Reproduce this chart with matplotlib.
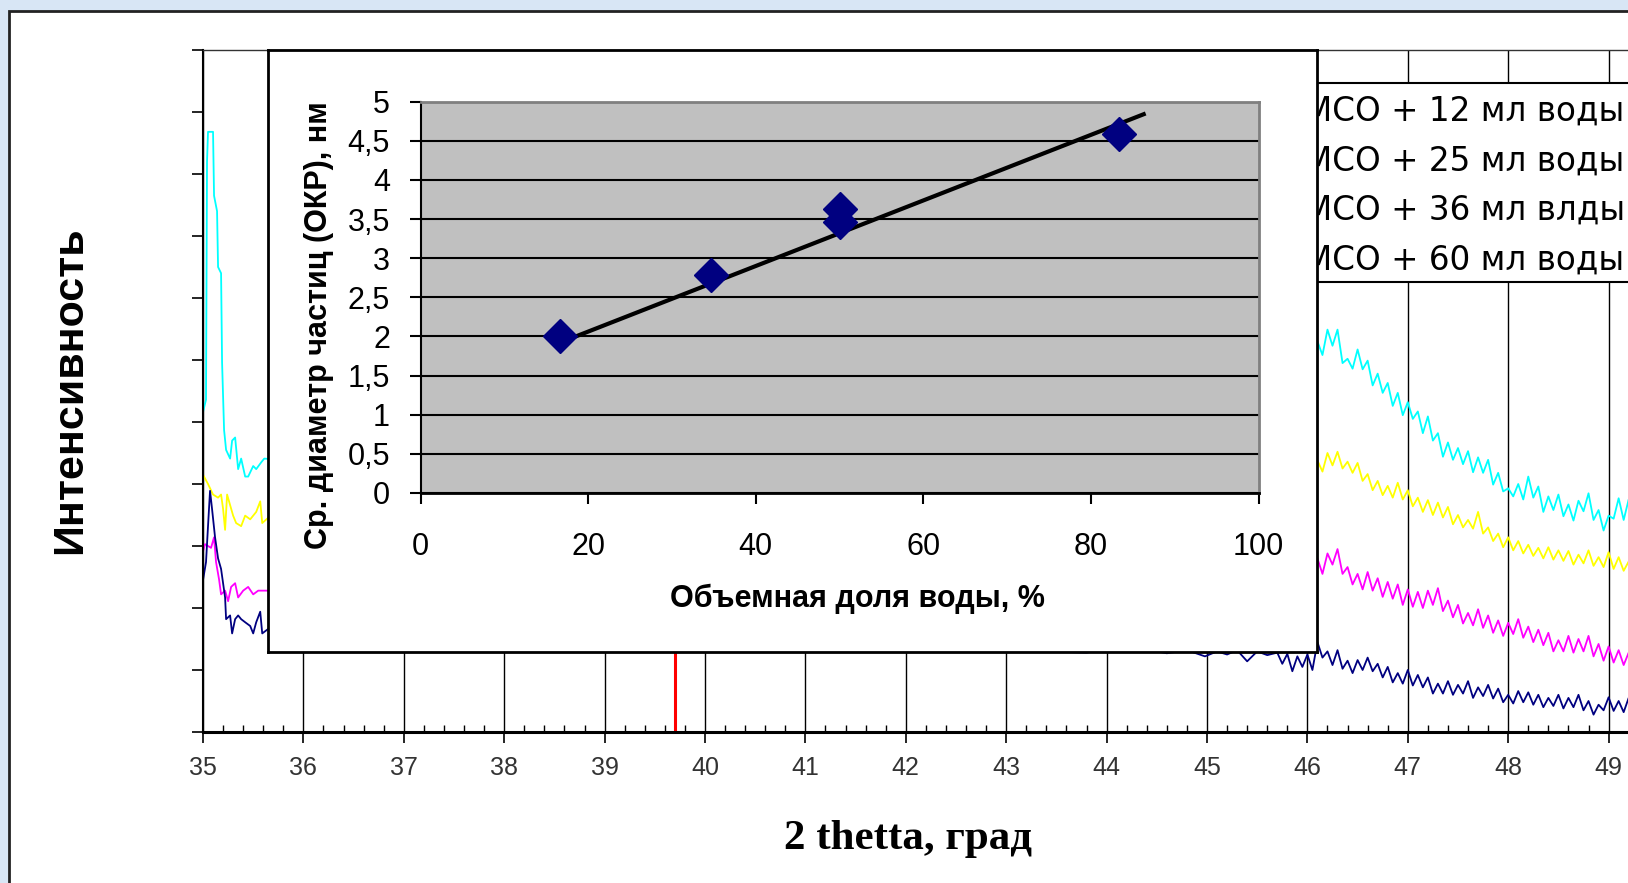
import numpy as np
import matplotlib
matplotlib.use("Agg")
import matplotlib.pyplot as plt
from matplotlib.patches import Rectangle
from matplotlib.ticker import MultipleLocator, FuncFormatter

W, H = 1628, 883

# --- XRD patterns (main chart), left part visible before the inset ---
cyan_lx = [35.00, 35.03, 35.04, 35.05, 35.08, 35.10, 35.11, 35.14, 35.15, 35.18, 35.19, 35.21,
           35.23, 35.27, 35.29, 35.32, 35.35, 35.38, 35.42, 35.45, 35.50, 35.53, 35.58, 35.61, 35.68]
cyan_ly = [5.16, 5.36, 9.20, 9.68, 9.68, 9.68, 8.65, 8.40, 7.50, 7.40, 5.96, 4.87,
           4.55, 4.41, 4.70, 4.75, 4.24, 4.41, 4.12, 4.12, 4.29, 4.24, 4.35, 4.41, 4.40]
yellow_lx = [35.00, 35.05, 35.10, 35.15, 35.18, 35.20, 35.22, 35.24, 35.27, 35.30, 35.33, 35.38,
             35.42, 35.47, 35.53, 35.57, 35.59, 35.68]
yellow_ly = [4.15, 4.00, 3.83, 3.78, 3.83, 3.60, 3.26, 3.83, 3.66, 3.49, 3.37, 3.32,
             3.49, 3.43, 3.55, 3.72, 3.37, 3.50]
magenta_lx = [35.00, 35.00, 35.02, 35.05, 35.08, 35.11, 35.13, 35.16, 35.18, 35.22, 35.25, 35.28,
              35.32, 35.35, 35.40, 35.45, 35.50, 35.55, 35.60, 35.68]
magenta_ly = [2.63, 2.91, 3.03, 3.00, 2.97, 3.14, 2.74, 2.46, 2.22, 2.28, 2.11, 2.34,
              2.40, 2.17, 2.28, 2.34, 2.22, 2.28, 2.28, 2.28]
navy_lx = [35.00, 35.00, 35.03, 35.05, 35.07, 35.09, 35.12, 35.15, 35.18, 35.22, 35.23, 35.27,
           35.29, 35.32, 35.35, 35.38, 35.42, 35.47, 35.50, 35.53, 35.57, 35.59, 35.68]
navy_ly = [1.94, 2.45, 2.74, 3.32, 3.89, 3.60, 3.14, 2.80, 2.63, 2.17, 1.82, 1.88,
           1.59, 1.82, 1.88, 1.82, 1.77, 1.71, 1.59, 1.77, 1.94, 1.59, 1.70]

# navy trace peeking out under the inset
navy_mx = [43.80, 44.00, 44.20, 44.40, 44.60, 44.80, 44.98, 45.10, 45.20, 45.30, 45.40, 45.50,
           45.60, 45.70, 45.75, 45.80, 45.85, 45.90, 45.95, 46.00, 46.05]
navy_my = [1.28, 1.35, 1.30, 1.33, 1.27, 1.32, 1.22, 1.30, 1.25, 1.32, 1.14, 1.30,
           1.24, 1.28, 1.10, 1.26, 0.98, 1.22, 1.05, 1.25, 1.00]

# right part, 46.10 ... 49.30 every 0.05 deg
right_x = np.round(np.arange(46.10, 49.301, 0.05), 2)
cyan_r = [6.30, 6.08, 6.49, 6.23, 6.49, 5.95, 6.02, 5.86, 6.17, 5.85,
          5.99, 5.59, 5.78, 5.47, 5.63, 5.26, 5.47, 5.11, 5.32, 5.05,
          5.17, 4.82, 5.09, 4.70, 4.82, 4.44, 4.67, 4.39, 4.58, 4.32,
          4.53, 4.19, 4.43, 4.18, 4.39, 3.99, 4.18, 3.88, 3.93, 3.80,
          4.00, 3.75, 4.12, 3.78, 3.96, 3.55, 3.80, 3.58, 3.83, 3.48,
          3.67, 3.41, 3.73, 3.56, 3.85, 3.42, 3.58, 3.25, 3.49, 3.44,
          3.77, 3.42, 3.75, 3.38, 3.60]
yellow_r = [4.38, 4.20, 4.50, 4.30, 4.52, 4.25, 4.36, 4.18, 4.34, 4.05,
            4.16, 3.90, 4.05, 3.82, 3.97, 3.78, 4.02, 3.75, 3.90, 3.64,
            3.78, 3.55, 3.74, 3.50, 3.70, 3.46, 3.63, 3.35, 3.50, 3.30,
            3.42, 3.28, 3.55, 3.20, 3.30, 3.08, 3.20, 2.98, 3.14, 2.93,
            3.08, 2.88, 3.02, 2.84, 2.97, 2.80, 2.98, 2.78, 2.93, 2.76,
            2.92, 2.70, 2.86, 2.72, 2.93, 2.68, 2.82, 2.66, 2.90, 2.63,
            2.82, 2.60, 2.75, 2.58, 2.72]
magenta_r = [2.80, 2.55, 2.88, 2.70, 2.95, 2.55, 2.66, 2.38, 2.55, 2.30,
             2.58, 2.28, 2.48, 2.18, 2.42, 2.15, 2.38, 2.05, 2.30, 2.02,
             2.26, 2.00, 2.28, 2.05, 2.32, 1.95, 2.12, 1.85, 2.05, 1.75,
             1.92, 1.72, 1.98, 1.68, 1.88, 1.60, 1.80, 1.55, 1.76, 1.58,
             1.82, 1.52, 1.70, 1.45, 1.65, 1.40, 1.60, 1.30, 1.48, 1.30,
             1.55, 1.28, 1.50, 1.30, 1.55, 1.22, 1.42, 1.15, 1.38, 1.12,
             1.32, 1.08, 1.28, 1.05, 1.25]
navy_r = [1.45, 1.20, 1.30, 1.08, 1.32, 1.02, 1.15, 0.95, 1.16, 1.00,
          1.20, 0.98, 1.10, 0.88, 1.05, 0.80, 0.95, 0.78, 1.00, 0.75,
          0.92, 0.72, 0.88, 0.62, 0.78, 0.62, 0.82, 0.60, 0.76, 0.62,
          0.82, 0.55, 0.72, 0.58, 0.76, 0.54, 0.70, 0.48, 0.60, 0.46,
          0.66, 0.48, 0.64, 0.44, 0.60, 0.40, 0.55, 0.42, 0.60, 0.38,
          0.55, 0.40, 0.60, 0.35, 0.50, 0.28, 0.44, 0.35, 0.56, 0.34,
          0.50, 0.32, 0.55, 0.36, 0.50]

red_line_x = 39.7
legend_labels = ["МСО + 12 мл воды", "МСО + 25 мл воды", "МСО + 36 мл влды", "МСО + 60 мл воды"]

# --- inset: particle size vs water fraction ---
water_frac = [16.7, 34.7, 50.0, 50.0, 83.3]
diameter = [2.00, 2.79, 3.63, 3.46, 4.59]
trend_x = [17.8, 86.3]
trend_y = [1.97, 4.84]

fig = plt.figure(figsize=(W / 100, H / 100), dpi=100)
fig.patch.set_facecolor('#d8e6f5')
page = Rectangle((9 / W, -0.1), 1.2, 1.1 - 11 / H, transform=fig.transFigure,
                 facecolor='white', edgecolor='#222222', lw=2, zorder=-1)
fig.patches.append(page)

# main axes: 35 -> x=203px, 100.4 px per degree, axis at y=732, top at y=50
ax = fig.add_axes([203 / W, 1 - 732 / H, 15 * 100.4 / W, 682 / H])
ax.set_facecolor('none')
ax.set_xlim(35, 50)
ax.set_ylim(0, 11)

series = [
    (cyan_lx, cyan_ly, [], [], cyan_r, '#00ffff'),
    (yellow_lx, yellow_ly, [], [], yellow_r, '#ffff00'),
    (magenta_lx, magenta_ly, [], [], magenta_r, '#ff00ff'),
    (navy_lx, navy_ly, navy_mx, navy_my, navy_r, '#000080'),
]
for lx, ly, mx, my, ry, col in series:
    xs = list(lx) + list(mx) + list(right_x)
    ys = list(ly) + list(my) + list(ry)
    ax.plot(xs, ys, color=col, lw=1.3, zorder=2)

ax.axvline(red_line_x, color='red', lw=2.2, zorder=1.5)

ax.xaxis.set_major_locator(MultipleLocator(1))
ax.xaxis.set_minor_locator(MultipleLocator(0.2))
ax.yaxis.set_major_locator(MultipleLocator(1))
ax.grid(axis='x', which='major', color='black', lw=1)
ax.tick_params(axis='x', which='major', direction='out', length=8, width=1.2,
               labelsize=18, labelcolor='#333333', pad=9)
ax.tick_params(axis='x', which='minor', direction='in', length=5, width=1)
ax.tick_params(axis='y', which='major', direction='out', length=8, width=1.2, labelleft=False)
for lab in ax.get_xticklabels():
    lab.set_fontfamily('Liberation Sans')
ax.spines['bottom'].set_linewidth(2.2)
ax.spines['left'].set_linewidth(1.5)
ax.spines['top'].set_linewidth(1)
ax.spines['top'].set_color('#333333')

# legend box, partly covered by the inset
ax.add_patch(Rectangle((1317 / W, 1 - 282 / H), 0.3, 199 / H, transform=fig.transFigure,
                       facecolor='white', edgecolor='black', lw=1.5, zorder=4, clip_on=False))
for i, lab in enumerate(legend_labels):
    ax.text(1304 / W, 1 - (111 + 49.6 * i) / H, lab, transform=fig.transFigure,
            fontsize=23.5, family='DejaVu Sans', va='center', ha='left', zorder=5, clip_on=False)

fig.text(70 / W, 1 - 390 / H, "Интенсивность", rotation=90, fontsize=31, fontweight='bold',
         family='Liberation Sans', ha='center', va='center')
fig.text(908 / W, 1 - 839 / H, "2 thetta, град", fontsize=31, fontweight='bold',
         family='Liberation Serif', ha='center', va='center')

# inset frame
frame = fig.add_axes([268 / W, 1 - 652 / H, 1049 / W, 602 / H], zorder=2)
frame.set_facecolor('white')
frame.set_xticks([])
frame.set_yticks([])
for s in frame.spines.values():
    s.set_linewidth(2)
    s.set_color('black')

# inset chart
ins = fig.add_axes([420.5 / W, 1 - 493 / H, 838 / W, 391.3 / H], zorder=3)
ins.set_facecolor('#c0c0c0')
ins.set_xlim(0, 100)
ins.set_ylim(0, 5)
ins.xaxis.set_major_locator(MultipleLocator(20))
ins.yaxis.set_major_locator(MultipleLocator(0.5))
ins.yaxis.set_major_formatter(FuncFormatter(lambda v, p: f"{v:g}".replace('.', ',')))
ins.grid(axis='y', color='black', lw=1.5)
ins.set_axisbelow(True)
ins.tick_params(axis='both', direction='out', length=8, width=1.5, labelsize=22)
ins.tick_params(axis='x', pad=20)
ins.tick_params(axis='y', pad=14)
for lab in ins.get_xticklabels() + ins.get_yticklabels():
    lab.set_fontfamily('Liberation Sans')
ins.spines['left'].set_linewidth(1.5)
ins.spines['bottom'].set_linewidth(2)
for side in ('top', 'right'):
    ins.spines[side].set_color('#808080')
    ins.spines[side].set_linewidth(2)

ins.plot(trend_x, trend_y, color='black', lw=3, zorder=3)
ins.plot(water_frac, diameter, linestyle='none', marker='D', markersize=17.5,
         color='#000080', zorder=4)

fig.text(319.5 / W, 1 - 325 / H, "Ср. диаметр частиц (ОКР), нм", rotation=90, fontsize=22,
         fontweight='bold', family='Liberation Sans', ha='center', va='center', zorder=5)
fig.text(857 / W, 1 - 599 / H, "Объемная доля воды, %", fontsize=22, fontweight='bold',
         family='Liberation Sans', ha='center', va='center', zorder=5)

fig.savefig("out.png", dpi=100)
